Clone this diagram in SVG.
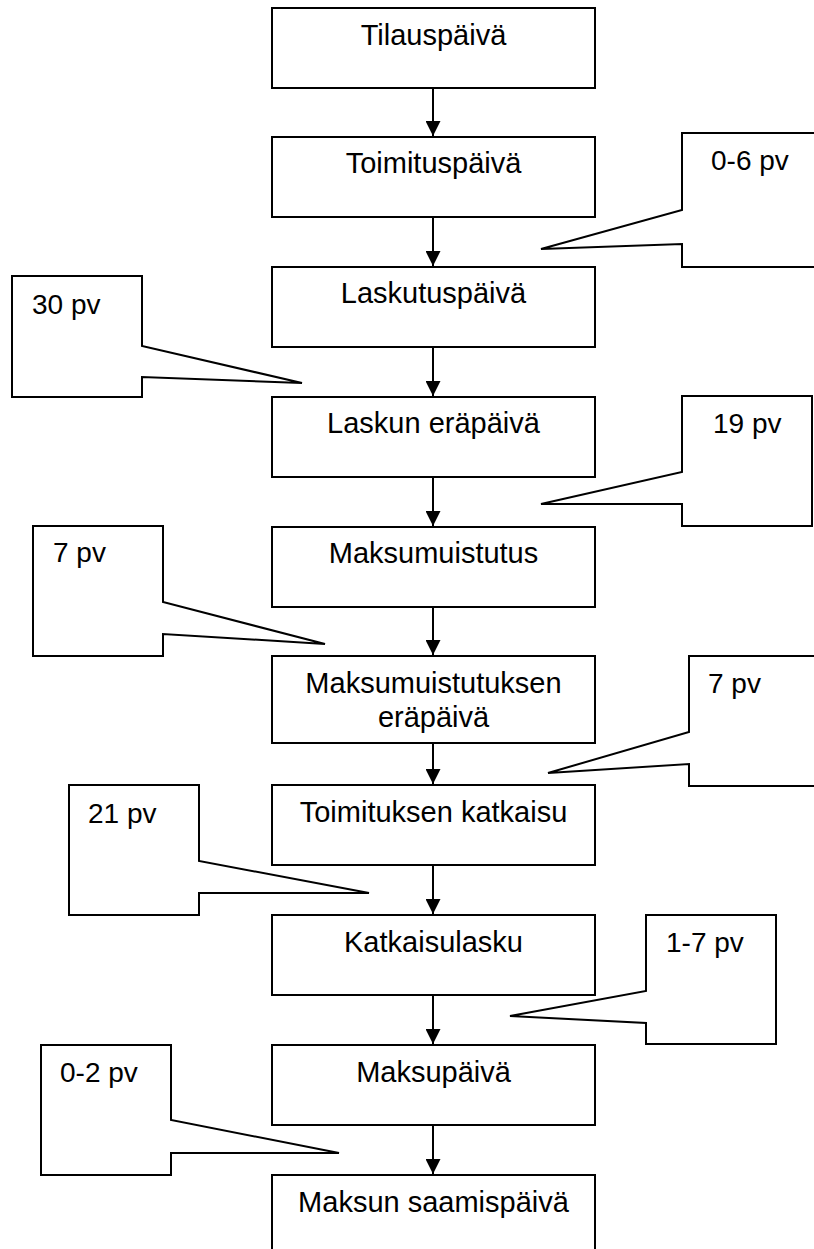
<svg xmlns="http://www.w3.org/2000/svg" width="814" height="1249" viewBox="0 0 814 1249">
  <style>
    .box { fill: #ffffff; stroke: #000000; stroke-width: 2; }
    .call { fill: #ffffff; stroke: #000000; stroke-width: 2; stroke-linejoin: miter; }
    .lbl { font-family: "Liberation Sans", Arial, sans-serif; font-size: 28px; fill: #000000; }
    .mid { text-anchor: middle; font-size: 29px; }
    .link { stroke: #000000; stroke-width: 2; fill: none; marker-end: url(#arrow); }
  </style>
  <defs>
    <marker id="arrow" markerWidth="15" markerHeight="15" refX="15" refY="7.5" orient="auto" markerUnits="userSpaceOnUse">
      <path d="M0,0 L15,7.5 L0,15 Z" fill="#000000"/>
    </marker>
  </defs>
  <rect width="814" height="1249" fill="#ffffff"/>

  <!-- flow connectors -->
  <g id="connectors">
    <line class="link" x1="433" y1="88" x2="433" y2="136"/>
    <line class="link" x1="433" y1="217" x2="433" y2="266"/>
    <line class="link" x1="433" y1="347" x2="433" y2="396"/>
    <line class="link" x1="433" y1="477" x2="433" y2="526"/>
    <line class="link" x1="433" y1="607" x2="433" y2="655"/>
    <line class="link" x1="433" y1="743" x2="433" y2="784"/>
    <line class="link" x1="433" y1="865" x2="433" y2="914"/>
    <line class="link" x1="433" y1="995" x2="433" y2="1044"/>
    <line class="link" x1="433" y1="1124" x2="433" y2="1174"/>
  </g>

  <!-- process steps -->
  <g id="n1"><rect class="box" x="272" y="8" width="323" height="80"/><text class="lbl mid" x="433.5" y="45">Tilauspäivä</text></g>
  <g id="n2"><rect class="box" x="272" y="137" width="323" height="80"/><text class="lbl mid" x="433.5" y="173">Toimituspäivä</text></g>
  <g id="n3"><rect class="box" x="272" y="267" width="323" height="80"/><text class="lbl mid" x="433.5" y="303">Laskutuspäivä</text></g>
  <g id="n4"><rect class="box" x="272" y="397" width="323" height="80"/><text class="lbl mid" x="433.5" y="433">Laskun eräpäivä</text></g>
  <g id="n5"><rect class="box" x="272" y="527" width="323" height="80"/><text class="lbl mid" x="433.5" y="563">Maksumuistutus</text></g>
  <g id="n6"><rect class="box" x="272" y="656" width="323" height="87"/><text class="lbl mid" x="433.5" y="693">Maksumuistutuksen</text><text class="lbl mid" x="433.5" y="727">eräpäivä</text></g>
  <g id="n7"><rect class="box" x="272" y="785" width="323" height="80"/><text class="lbl mid" x="433.5" y="822">Toimituksen katkaisu</text></g>
  <g id="n8"><rect class="box" x="272" y="915" width="323" height="80"/><text class="lbl mid" x="433.5" y="952">Katkaisulasku</text></g>
  <g id="n9"><rect class="box" x="272" y="1045" width="323" height="80"/><text class="lbl mid" x="433.5" y="1082">Maksupäivä</text></g>
  <g id="n10"><rect class="box" x="272" y="1175" width="323" height="90"/><text class="lbl mid" x="433.5" y="1212">Maksun saamispäivä</text></g>

  <!-- duration callouts -->
  <g id="c1"><path class="call" d="M682,133 L820,133 L820,267 L682,267 L682,244 L541,249 L682,210 Z"/><text class="lbl" x="711" y="170">0-6 pv</text></g>
  <g id="c2"><path class="call" d="M12,276 L142,276 L142,346 L302,383 L142,377 L142,397 L12,397 Z"/><text class="lbl" x="32" y="314">30 pv</text></g>
  <g id="c3"><path class="call" d="M682,396 L812,396 L812,526 L682,526 L682,504 L541,504 L682,472 Z"/><text class="lbl" x="713" y="433">19 pv</text></g>
  <g id="c4"><path class="call" d="M33,526 L163,526 L163,602 L325,644 L163,634 L163,656 L33,656 Z"/><text class="lbl" x="53" y="562">7 pv</text></g>
  <g id="c5"><path class="call" d="M689,656 L820,656 L820,786 L689,786 L689,764 L548,773 L689,732 Z"/><text class="lbl" x="708" y="693">7 pv</text></g>
  <g id="c6"><path class="call" d="M69,785 L199,785 L199,861 L369,893 L199,893 L199,915 L69,915 Z"/><text class="lbl" x="88" y="823">21 pv</text></g>
  <g id="c7"><path class="call" d="M646,915 L776,915 L776,1044 L646,1044 L646,1023 L510,1016 L646,991 Z"/><text class="lbl" x="666" y="952">1-7 pv</text></g>
  <g id="c8"><path class="call" d="M41,1045 L171,1045 L171,1120 L339,1153 L171,1153 L171,1175 L41,1175 Z"/><text class="lbl" x="60" y="1082">0-2 pv</text></g>
</svg>
